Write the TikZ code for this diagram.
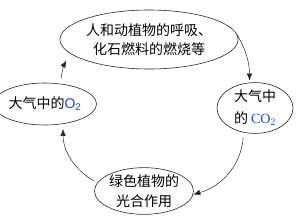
\documentclass[tikz,border=0pt]{standalone}
\usepackage{fontspec}
\usetikzlibrary{arrows.meta,shapes.geometric}
\newfontfamily\cjk{Noto Sans CJK SC}
\newfontfamily\latinsans{Liberation Sans}
\newfontfamily\latinserif{Liberation Serif}
\definecolor{chemblue}{RGB}{30,70,190}
\tikzset{
  stage/.style={draw=black!85,ellipse,line width=0.6pt,inner sep=0pt,align=center,
    font=\cjk\fontsize{14}{20}\selectfont},
  flow/.style={-{Latex[length=7pt,width=5.5pt]},line width=0.5pt,black!85}
}
\begin{document}
\begin{tikzpicture}[x=1pt,y=-1pt]
\useasboundingbox (0,0) rectangle (303,215);
\node[stage,minimum width=148pt,minimum height=59pt,font=\cjk\fontsize{14}{19}\selectfont] (burn) at (149,39.5)
  {人和动植物的呼吸、\\化石燃料的燃烧等};
\node[stage,minimum width=76pt,minimum height=46pt,font=\cjk\fontsize{14}{22}\selectfont] (co2) at (255,108)
  {大气中\\的 {\latinserif\color{chemblue}CO\textsubscript{2}}};
\node[stage,minimum width=98pt,minimum height=44pt] (photo) at (144,191)
  {绿色植物的\\光合作用};
\node[stage,minimum width=86pt,minimum height=42pt] (o2) at (45,104)
  {大气中的{\latinsans\color{chemblue}O\textsubscript{2}}};
% cycle arrows
\draw[flow,shorten <=2pt,shorten >=2pt] (burn.5) to[bend left=15] (co2.102);
\draw[flow,shorten <=5pt] (co2.245) to[bend left=35] (photo.-4);
\draw[flow,shorten <=4pt,shorten >=5pt] (photo.170) to[bend left=30] (o2.-48);
\draw[flow,shorten <=5pt,shorten >=8pt] (o2.53) to[bend left=10] (burn.190);
\end{tikzpicture}
\end{document}
